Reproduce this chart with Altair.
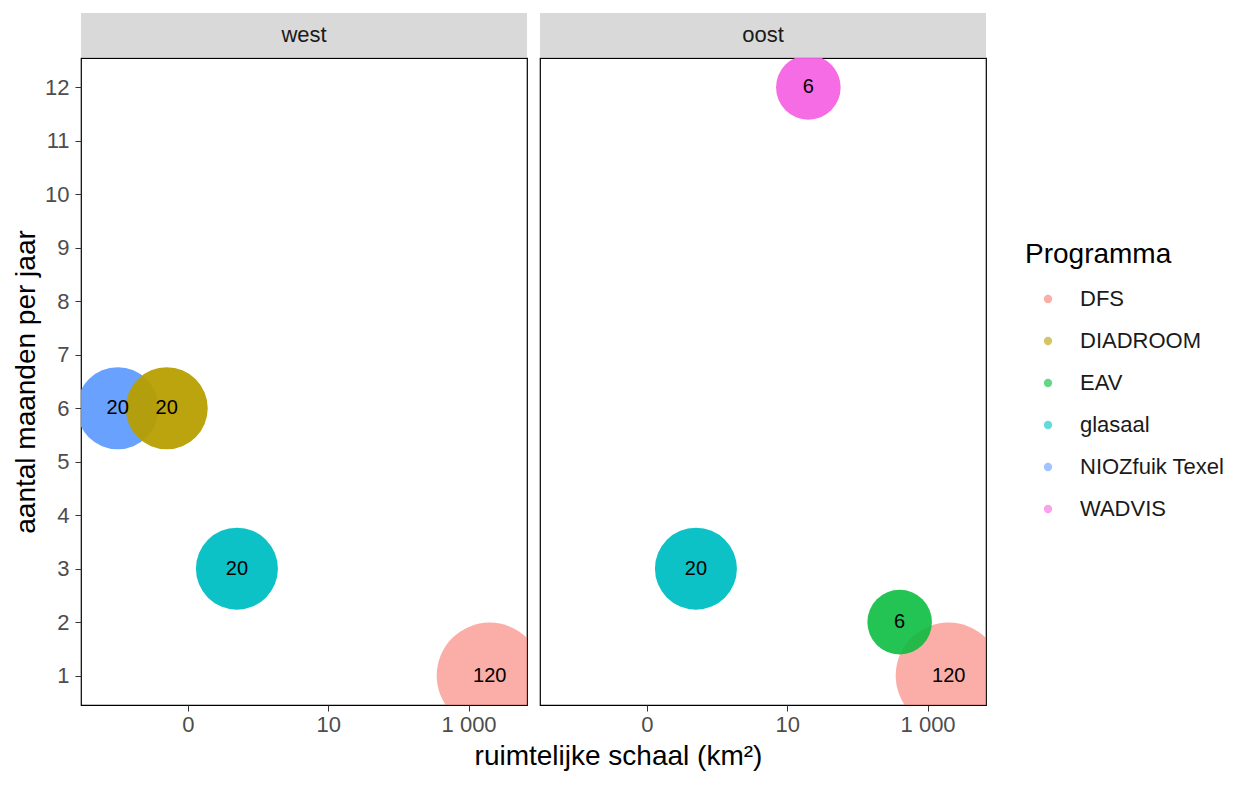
import altair as alt
import pandas as pd

# ---- data ----
panel = ["west", "west", "west", "west", "oost", "oost", "oost", "oost"]
programma = ["DFS", "NIOZfuik Texel", "DIADROOM", "glasaal",
             "DFS", "EAV", "glasaal", "WADVIS"]
schaal = [2000, 0.01, 0.05, 0.5, 2000, 400, 0.5, 20]          # km2
maanden = [1, 6, 6, 3, 1, 2, 3, 12]                            # months per year
aantal = [120, 20, 20, 20, 120, 6, 20, 6]                      # label / size
volgorde = [1, 2, 3, 4, 5, 6, 7, 8]

programs = ["DFS", "DIADROOM", "EAV", "glasaal", "NIOZfuik Texel", "WADVIS"]
x_ticks = [0.1, 10, 1000]
y_ticks = list(range(1, 13))
panels = ["west", "oost"]

df = pd.DataFrame(dict(panel=panel, Programma=programma, schaal=schaal,
                       maanden=maanden, aantal=aantal, volgorde=volgorde))
strip_df = pd.DataFrame(dict(panel=panels))

colors = ["#F8766D", "#B79F00", "#00BA38", "#00BFC4", "#619CFF", "#F564E3"]

W, H, SH = 446, 647, 44
FONT = "Liberation Sans"

xscale = alt.Scale(type="log", domain=[0.003, 6800], nice=False)
yscale = alt.Scale(domain=[0.45, 12.55], nice=False, zero=False)

legend = alt.Legend(title="Programma", orient="none", legendX=944, legendY=228,
                    padding=0, symbolType="circle", symbolSize=70, symbolOpacity=0.6,
                    symbolStrokeWidth=0, symbolOffset=12,
                    titleFontSize=28, titleFontWeight="normal", titleColor="black",
                    titlePadding=19, labelFontSize=22, labelColor="#1A1A1A",
                    labelOffset=21, rowPadding=20)


def panel_chart(name, show_y):
    yaxis = (alt.Axis(values=y_ticks, title="aantal maanden per jaar")
             if show_y else None)
    base = alt.Chart(df).transform_filter(alt.datum.panel == name)
    points = base.transform_calculate(
        alpha="datum.Programma == 'DFS' ? 0.6 : (datum.Programma == 'EAV' ? 0.86 : 0.95)"
    ).mark_circle(clip=True, strokeWidth=0).encode(
        x=alt.X("schaal:Q", scale=xscale,
                axis=alt.Axis(values=x_ticks, title=None, labelPadding=3,
                              labelExpr="datum.value < 1 ? '0' : replace(format(datum.value, ','), ',', ' ')")),
        y=alt.Y("maanden:Q", scale=yscale, axis=yaxis),
        color=alt.Color("Programma:N", scale=alt.Scale(domain=programs, range=colors),
                        legend=legend),
        opacity=alt.Opacity("alpha:Q", scale=None),
        size=alt.Size("aantal:Q",
                      scale=alt.Scale(domain=[6, 20, 120], range=[4173, 6724, 11236]),
                      legend=None),
        order=alt.Order("volgorde:Q"),
    )
    labels = base.mark_text(clip=True, fontSize=20, color="black", font=FONT).encode(
        x=alt.X("schaal:Q", scale=xscale),
        y=alt.Y("maanden:Q", scale=yscale),
        text=alt.Text("aantal:Q"),
    )
    plot = alt.layer(points, labels).properties(width=W, height=H)

    sbase = alt.Chart(strip_df).transform_filter(alt.datum.panel == name)
    srect = sbase.mark_rect(color="#D9D9D9").encode(
        x=alt.value(0), x2=alt.value(W), y=alt.value(0), y2=alt.value(SH))
    stext = sbase.mark_text(fontSize=22, color="#1A1A1A", font=FONT).encode(
        x=alt.value(W / 2), y=alt.value(SH / 2), text=alt.Text("panel:N"))
    strip = alt.layer(srect, stext).properties(
        width=W, height=SH, view=alt.ViewBackground(stroke=None))
    return alt.vconcat(strip, plot, spacing=0)


chart = alt.hconcat(
    panel_chart("west", True), panel_chart("oost", False), spacing=11
).properties(
    title=alt.TitleParams("ruimtelijke schaal (km²)", orient="bottom", anchor="middle",
                          fontSize=28, fontWeight="normal", color="black", offset=7),
    padding={"left": 3, "top": 5, "right": 0, "bottom": 0},
).configure(
    font=FONT,
).configure_view(
    stroke="black", strokeWidth=1.2
).configure_axis(
    domain=False, grid=False,
    tickColor="#333333", tickSize=6, tickWidth=1,
    labelColor="#4D4D4D", labelFontSize=22, labelPadding=6,
    titleColor="black", titleFontSize=28, titleFontWeight="normal",
).configure_axisY(titlePadding=4)

chart.save("out.html", embed_options={"renderer": "svg", "actions": False})
